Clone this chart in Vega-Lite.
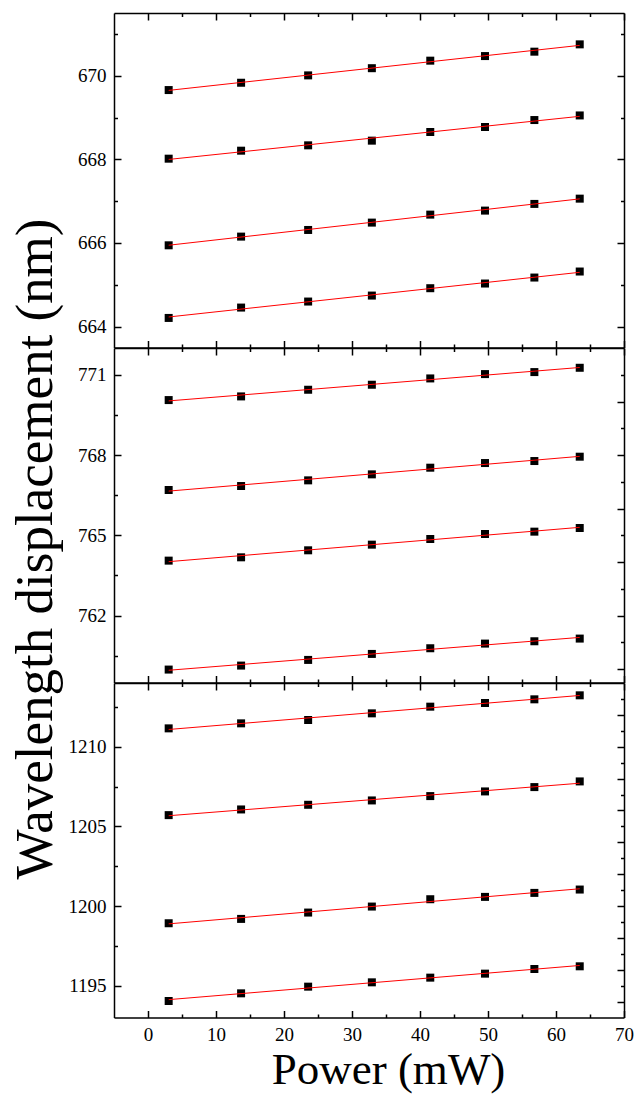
{
  "$schema": "https://vega.github.io/schema/vega-lite/v6.json",
  "padding": {"left": 8, "top": 12, "right": 10, "bottom": 2},
  "spacing": 0,
  "bounds": "flush",
  "datasets": {
    "top": [
      {"s": 1, "x": 3.04, "y": 669.657}, {"s": 1, "x": 13.69, "y": 669.832}, {"s": 1, "x": 23.55, "y": 670.008}, {"s": 1, "x": 32.92, "y": 670.18},
      {"s": 1, "x": 41.51, "y": 670.36}, {"s": 1, "x": 49.56, "y": 670.47}, {"s": 1, "x": 56.82, "y": 670.575}, {"s": 1, "x": 63.49, "y": 670.75},
      {"s": 2, "x": 3.04, "y": 668.016}, {"s": 2, "x": 13.69, "y": 668.207}, {"s": 2, "x": 23.55, "y": 668.335}, {"s": 2, "x": 32.92, "y": 668.447},
      {"s": 2, "x": 41.51, "y": 668.654}, {"s": 2, "x": 49.56, "y": 668.774}, {"s": 2, "x": 56.82, "y": 668.94}, {"s": 2, "x": 63.49, "y": 669.05},
      {"s": 3, "x": 3.04, "y": 665.944}, {"s": 3, "x": 13.69, "y": 666.152}, {"s": 3, "x": 23.55, "y": 666.311}, {"s": 3, "x": 32.92, "y": 666.487},
      {"s": 3, "x": 41.51, "y": 666.678}, {"s": 3, "x": 49.56, "y": 666.774}, {"s": 3, "x": 56.82, "y": 666.934}, {"s": 3, "x": 63.49, "y": 667.06},
      {"s": 4, "x": 3.04, "y": 664.207}, {"s": 4, "x": 13.69, "y": 664.455}, {"s": 4, "x": 23.55, "y": 664.599}, {"s": 4, "x": 32.92, "y": 664.742},
      {"s": 4, "x": 41.51, "y": 664.918}, {"s": 4, "x": 49.56, "y": 665.03}, {"s": 4, "x": 56.82, "y": 665.173}, {"s": 4, "x": 63.49, "y": 665.317}
    ],
    "middle": [
      {"s": 1, "x": 3.04, "y": 770.054}, {"s": 1, "x": 13.69, "y": 770.191}, {"s": 1, "x": 23.55, "y": 770.44}, {"s": 1, "x": 32.92, "y": 770.627},
      {"s": 1, "x": 41.51, "y": 770.863}, {"s": 1, "x": 49.56, "y": 771.025}, {"s": 1, "x": 56.82, "y": 771.1}, {"s": 1, "x": 63.49, "y": 771.261},
      {"s": 2, "x": 3.04, "y": 766.693}, {"s": 2, "x": 13.69, "y": 766.842}, {"s": 2, "x": 23.55, "y": 767.054}, {"s": 2, "x": 32.92, "y": 767.278},
      {"s": 2, "x": 41.51, "y": 767.527}, {"s": 2, "x": 49.56, "y": 767.701}, {"s": 2, "x": 56.82, "y": 767.776}, {"s": 2, "x": 63.49, "y": 767.938},
      {"s": 3, "x": 3.04, "y": 764.054}, {"s": 3, "x": 13.69, "y": 764.178}, {"s": 3, "x": 23.55, "y": 764.44}, {"s": 3, "x": 32.92, "y": 764.651},
      {"s": 3, "x": 41.51, "y": 764.863}, {"s": 3, "x": 49.56, "y": 765.05}, {"s": 3, "x": 56.82, "y": 765.137}, {"s": 3, "x": 63.49, "y": 765.274},
      {"s": 4, "x": 3.04, "y": 759.983}, {"s": 4, "x": 13.69, "y": 760.132}, {"s": 4, "x": 23.55, "y": 760.344}, {"s": 4, "x": 32.92, "y": 760.568},
      {"s": 4, "x": 41.51, "y": 760.78}, {"s": 4, "x": 49.56, "y": 760.954}, {"s": 4, "x": 56.82, "y": 761.041}, {"s": 4, "x": 63.49, "y": 761.141}
    ],
    "bottom": [
      {"s": 1, "x": 3.04, "y": 1211.152}, {"s": 1, "x": 13.69, "y": 1211.467}, {"s": 1, "x": 23.55, "y": 1211.676}, {"s": 1, "x": 32.92, "y": 1212.095},
      {"s": 1, "x": 41.51, "y": 1212.514}, {"s": 1, "x": 49.56, "y": 1212.745}, {"s": 1, "x": 56.82, "y": 1212.975}, {"s": 1, "x": 63.49, "y": 1213.226},
      {"s": 2, "x": 3.04, "y": 1205.705}, {"s": 2, "x": 13.69, "y": 1206.061}, {"s": 2, "x": 23.55, "y": 1206.354}, {"s": 2, "x": 32.92, "y": 1206.627},
      {"s": 2, "x": 41.51, "y": 1206.9}, {"s": 2, "x": 49.56, "y": 1207.193}, {"s": 2, "x": 56.82, "y": 1207.465}, {"s": 2, "x": 63.49, "y": 1207.821},
      {"s": 3, "x": 3.04, "y": 1198.917}, {"s": 3, "x": 13.69, "y": 1199.19}, {"s": 3, "x": 23.55, "y": 1199.588}, {"s": 3, "x": 32.92, "y": 1199.965},
      {"s": 3, "x": 41.51, "y": 1200.425}, {"s": 3, "x": 49.56, "y": 1200.572}, {"s": 3, "x": 56.82, "y": 1200.823}, {"s": 3, "x": 63.49, "y": 1201.033},
      {"s": 4, "x": 3.04, "y": 1194.035}, {"s": 4, "x": 13.69, "y": 1194.517}, {"s": 4, "x": 23.55, "y": 1194.936}, {"s": 4, "x": 32.92, "y": 1195.208},
      {"s": 4, "x": 41.51, "y": 1195.502}, {"s": 4, "x": 49.56, "y": 1195.753}, {"s": 4, "x": 56.82, "y": 1196.046}, {"s": 4, "x": 63.49, "y": 1196.214}
    ]
  },
  "vconcat": [
    {
      "width": 510,
      "height": 334.5,
      "data": {"name": "top"},
      "layer": [
        {
          "mark": {"type": "point", "shape": "square", "filled": true, "size": 64, "color": "black", "opacity": 1},
          "encoding": {
            "x": {"field": "x", "type": "quantitative", "scale": {"domain": [-5, 70], "nice": false, "zero": false},
              "axis": {"orient": "bottom", "title": null, "labels": false, "values": [0, 5, 10, 15, 20, 25, 30, 35, 40, 45, 50, 55, 60, 65, 70],
                "tickSize": {"expr": "datum.value % 10 === 0 ? -7 : -3.5"}}},
            "y": {"field": "y", "type": "quantitative", "scale": {"domain": [663.5, 671.5], "nice": false, "zero": false},
              "axis": {"orient": "left", "title": null, "format": "d", "values": [664, 665, 666, 667, 668, 669, 670, 671],
                "labelExpr": "datum.value % 2 === 0 ? datum.label : ''",
                "tickSize": {"expr": "datum.value % 2 === 0 ? -7 : -3.5"}}}
          }
        },
        {
          "transform": [{"regression": "y", "on": "x", "groupby": ["s"]}],
          "mark": {"type": "line", "color": "#ff0000", "strokeWidth": 1},
          "encoding": {
            "x": {"field": "x", "type": "quantitative", "scale": {"domain": [-5, 70], "nice": false, "zero": false},
              "axis": {"orient": "top", "title": null, "labels": false, "values": [0, 5, 10, 15, 20, 25, 30, 35, 40, 45, 50, 55, 60, 65, 70],
                "tickSize": {"expr": "datum.value % 10 === 0 ? -7 : -3.5"}}},
            "y": {"field": "y", "type": "quantitative", "scale": {"domain": [663.5, 671.5], "nice": false, "zero": false},
              "axis": {"orient": "right", "title": null, "labels": false, "values": [664, 665, 666, 667, 668, 669, 670, 671],
                "tickSize": {"expr": "datum.value % 2 === 0 ? -7 : -3.5"}}},
            "detail": {"field": "s", "type": "nominal"}
          }
        }
      ],
      "resolve": {"axis": {"x": "independent", "y": "independent"}}
    },
    {
      "width": 510,
      "height": 334.5,
      "data": {"name": "middle"},
      "layer": [
        {
          "mark": {"type": "point", "shape": "square", "filled": true, "size": 64, "color": "black", "opacity": 1},
          "encoding": {
            "x": {"field": "x", "type": "quantitative", "scale": {"domain": [-5, 70], "nice": false, "zero": false},
              "axis": {"orient": "bottom", "title": null, "labels": false, "values": [0, 5, 10, 15, 20, 25, 30, 35, 40, 45, 50, 55, 60, 65, 70],
                "tickSize": {"expr": "datum.value % 10 === 0 ? -7 : -3.5"}}},
            "y": {"field": "y", "type": "quantitative", "scale": {"domain": [759.5, 772], "nice": false, "zero": false},
              "axis": {"orient": "left", "format": "d", "values": [760.5, 762, 763.5, 765, 766.5, 768, 769.5, 771],
                "labelExpr": "datum.value % 1 === 0 ? datum.label : ''",
                "title": "Wavelength displacement (nm)", "titleFontSize": 53, "titleAngle": -90,
                "titleX": -63, "titleY": 200.5, "titleAlign": "center", "titleBaseline": "alphabetic", "titleAnchor": null,
                "tickSize": {"expr": "datum.value % 1 === 0 ? -7 : -3.5"}}}
          }
        },
        {
          "transform": [{"regression": "y", "on": "x", "groupby": ["s"]}],
          "mark": {"type": "line", "color": "#ff0000", "strokeWidth": 1},
          "encoding": {
            "x": {"field": "x", "type": "quantitative", "scale": {"domain": [-5, 70], "nice": false, "zero": false},
              "axis": {"orient": "top", "title": null, "labels": false, "values": [0, 5, 10, 15, 20, 25, 30, 35, 40, 45, 50, 55, 60, 65, 70],
                "tickSize": {"expr": "datum.value % 10 === 0 ? -7 : -3.5"}}},
            "y": {"field": "y", "type": "quantitative", "scale": {"domain": [759.5, 772], "nice": false, "zero": false},
              "axis": {"orient": "right", "title": null, "labels": false, "values": [760, 761, 762, 763, 764, 765, 766, 767, 768, 769, 770, 771],
                "tickSize": {"expr": "datum.value % 2 === 0 ? -7 : -3.5"}}},
            "detail": {"field": "s", "type": "nominal"}
          }
        }
      ],
      "resolve": {"axis": {"x": "independent", "y": "independent"}}
    },
    {
      "width": 510,
      "height": 334.5,
      "data": {"name": "bottom"},
      "layer": [
        {
          "mark": {"type": "point", "shape": "square", "filled": true, "size": 64, "color": "black", "opacity": 1},
          "encoding": {
            "x": {"field": "x", "type": "quantitative", "scale": {"domain": [-5, 70], "nice": false, "zero": false},
              "axis": {"orient": "bottom", "values": [0, 5, 10, 15, 20, 25, 30, 35, 40, 45, 50, 55, 60, 65, 70],
                "labelExpr": "datum.value % 10 === 0 ? datum.label : ''", "format": "d",
                "title": "Power (mW)", "titleFontSize": 45, "titleX": 274, "titleY": 66,
                "titleAlign": "center", "titleBaseline": "alphabetic", "titleAnchor": null,
                "tickSize": {"expr": "datum.value % 10 === 0 ? -7 : -3.5"}}},
            "y": {"field": "y", "type": "quantitative", "scale": {"domain": [1193, 1214], "nice": false, "zero": false},
              "axis": {"orient": "left", "title": null, "format": "d", "values": [1195, 1197.5, 1200, 1202.5, 1205, 1207.5, 1210, 1212.5],
                "labelExpr": "datum.value % 1 === 0 ? datum.label : ''",
                "tickSize": {"expr": "datum.value % 1 === 0 ? -7 : -3.5"}}}
          }
        },
        {
          "transform": [{"regression": "y", "on": "x", "groupby": ["s"]}],
          "mark": {"type": "line", "color": "#ff0000", "strokeWidth": 1},
          "encoding": {
            "x": {"field": "x", "type": "quantitative", "scale": {"domain": [-5, 70], "nice": false, "zero": false},
              "axis": {"orient": "top", "title": null, "labels": false, "values": [0, 5, 10, 15, 20, 25, 30, 35, 40, 45, 50, 55, 60, 65, 70],
                "tickSize": {"expr": "datum.value % 10 === 0 ? -7 : -3.5"}}},
            "y": {"field": "y", "type": "quantitative", "scale": {"domain": [1193, 1214], "nice": false, "zero": false},
              "axis": {"orient": "right", "title": null, "labels": false,
                "values": [1194, 1195, 1196, 1197, 1198, 1199, 1200, 1201, 1202, 1203, 1204, 1205, 1206, 1207, 1208, 1209, 1210, 1211, 1212, 1213],
                "tickSize": {"expr": "datum.value % 2 === 0 ? -7 : -3.5"}}},
            "detail": {"field": "s", "type": "nominal"}
          }
        }
      ],
      "resolve": {"axis": {"x": "independent", "y": "independent"}}
    }
  ],
  "config": {
    "view": {"stroke": null},
    "axis": {
      "grid": false,
      "ticks": true,
      "domainColor": "black",
      "domainWidth": 1.5,
      "tickColor": "black",
      "tickWidth": 1.5,
      "labelFont": "Liberation Serif",
      "labelFontSize": 19,
      "labelColor": "black",
      "labelPadding": 15,
      "labelFlush": false,
      "labelOverlap": false,
      "labelBound": false,
      "titleFont": "Liberation Serif",
      "titleColor": "black",
      "titleFontWeight": "normal"
    }
  }
}
